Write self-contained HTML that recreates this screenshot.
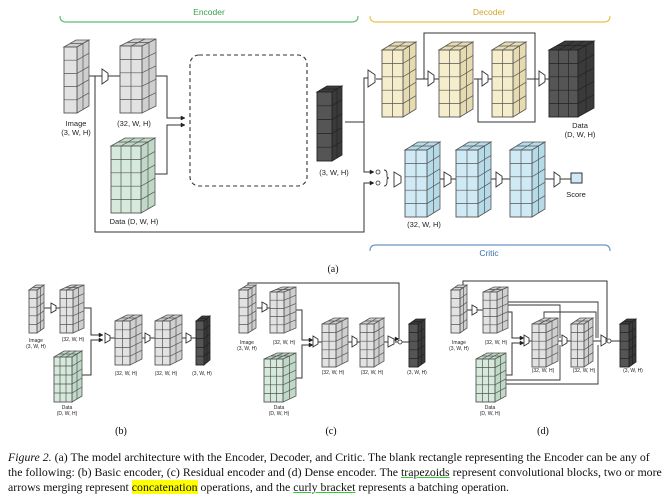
<!DOCTYPE html>
<html><head><meta charset="utf-8">
<style>
body{margin:0;background:#fff;width:670px;height:497px;overflow:hidden;position:relative}
svg{position:absolute;left:0;top:0}
.cap{position:absolute;left:8px;top:450px;width:665px;font-family:"Liberation Serif",serif;font-size:11.85px;line-height:15px;color:#111;white-space:nowrap}
.hl{background:#ffff00}
.ul{text-decoration:underline;text-decoration-color:#33cc33;}
</style></head><body>
<svg id="s" width="670" height="497" xmlns="http://www.w3.org/2000/svg" font-family="Liberation Sans, sans-serif"></svg>
<div class="cap"><i>Figure 2.</i> (a) The model architecture with the Encoder, Decoder, and Critic. The blank rectangle representing the Encoder can be any of<br>the following: (b) Basic encoder, (c) Residual encoder and (d) Dense encoder. The <span class="ul">trapezoids</span> represent convolutional blocks, two or more<br>arrows merging represent <span class="hl">concatenation</span> operations, and the <span class="ul">curly bracket</span> represents a batching operation.</div>
<script>
var S=document.getElementById('s'),h='';
function P(d,st,f,w,extra){h+='<path d="'+d+'" fill="'+(f||'none')+'" stroke="'+(st||'#333')+'" stroke-width="'+(w||1)+'" '+(extra||'')+'/>';}
function T(x,y,t,sz,c,a){h+='<text x="'+x+'" y="'+y+'" font-size="'+(sz||8)+'" fill="'+(c||'#222')+'" text-anchor="'+(a||'middle')+'">'+t+'</text>';}
function cube(x,y,fw,fh,dx,dy,cols,rows,dc,fill,side,grid){
 grid=grid||'#555';
 P('M'+x+' '+y+'L'+(x+dx)+' '+(y-dy)+'L'+(x+fw+dx)+' '+(y-dy)+'L'+(x+fw)+' '+y+'Z',grid,side,0.8);
 P('M'+(x+fw)+' '+y+'L'+(x+fw+dx)+' '+(y-dy)+'L'+(x+fw+dx)+' '+(y+fh-dy)+'L'+(x+fw)+' '+(y+fh)+'Z',grid,side,0.8);
 h+='<rect x="'+x+'" y="'+y+'" width="'+fw+'" height="'+fh+'" fill="'+fill+'" stroke="'+grid+'" stroke-width="0.9"/>';
 var d='';
 for(var i=1;i<cols;i++){var xx=x+fw*i/cols;d+='M'+xx+' '+y+'V'+(y+fh)+'M'+xx+' '+y+'L'+(xx+dx)+' '+(y-dy);}
 for(var j=1;j<rows;j++){var yy=y+fh*j/rows;d+='M'+x+' '+yy+'H'+(x+fw)+'L'+(x+fw+dx)+' '+(yy-dy);}
 for(var k=1;k<dc;k++){var ox=x+dx*k/dc,oy=y-dy*k/dc;d+='M'+ox+' '+oy+'H'+(ox+fw)+'V'+(oy+fh);}
 P(d,grid,'none',0.7);
}
var G=['#e2e2e2','#cfcfcf'],Y=['#f5edcb','#e6dbb0'],N=['#d6eadb','#bfd9c6'],B=['#cfeaf5','#b5dbe9'],D=['#555','#3a3a3a','#222'];
function c(x,y,fw,fh,dx,dy,cols,rows,dc,C){cube(x,y,fw,fh,dx,dy,cols,rows,dc,C[0],C[1],C[2]);}
function trap(x,y,w,hh){P('M'+x+' '+y+'L'+(x+w)+' '+(y+hh*0.28)+'L'+(x+w)+' '+(y+hh*0.72)+'L'+x+' '+(y+hh)+'Z','#333','#fff',0.9);}
function arr(x,y){P('M'+(x-4)+' '+(y-2)+'L'+x+' '+y+'L'+(x-4)+' '+(y+2)+'Z','#222','#222',0.5);}
function circ(x,y,r){h+='<circle cx="'+x+'" cy="'+y+'" r="'+(r||2)+'" fill="#fff" stroke="#333" stroke-width="0.8"/>';}
function brace(x1,x2,y,col,up){var e=up?6:-6;P('M'+x1+' '+(y-e)+'Q'+x1+' '+y+' '+(x1+6)+' '+y+'H'+(x2-6)+'Q'+x2+' '+y+' '+x2+' '+(y-e),col,'none',1.2);}
brace(60,358,22,'#5cbf6a',true);T(209,15,'Encoder',8.5,'#3a9e4a');
brace(370,610,22,'#e8c24a',true);T(489,15,'Decoder',8.5,'#d4a52a');
brace(370,610,245,'#6a95c8',false);T(489,256,'Critic',8.5,'#3d6ea8');
P('M77 76H102M108 76H120');
P('M155 76H167V118H185M155 174H167V125H185');arr(185,118);arr(185,125);
P('M95 76V232H364V183H373');arr(374,183);
P('M345 122H364V78H368M364 122V172H373');arr(374,172);
P('M376 79H382M416 79H428M434 79H439M474 79H482M488 79H492M527 79H539M545 79H549',null,null,1);
P('M424 79V33H535V79M478 79V122H535V79',null,null,1);
P('M440 179H444M451 179H456M491 179H496M502 179H510M545 179H554M560 179H571');
c(64,47,13,66,12,7,1,5,2,G);
trap(102,69,6,15);
c(120,46,22,67,14,7,2,5,2,G);
c(111,146,30,67,14,8,3,5,2,N);
h+='<rect x="190" y="55" width="117" height="131" rx="9" fill="none" stroke="#333" stroke-width="1.1" stroke-dasharray="4,3"/>';
c(317,92,15,69,10,6,1,5,2,D);
trap(368,70,7,17);
c(382,50,21,67,13,8,2,5,2,Y);trap(428,71,6,15);
c(439,50,21,67,13,8,2,5,2,Y);trap(482,71,6,15);
c(492,50,21,67,13,8,2,5,2,Y);trap(539,71,6,15);
c(549,50,29,67,16,9,3,5,2,D);
circ(378,172);circ(378,183);
P('M384 170Q387 170 387 174V176Q387 178 389 178Q387 178 387 180V182Q387 186 384 186',null,null,0.9);
trap(394,172,7,15);
c(405,150,22,67,13,8,2,5,2,B);trap(444,172,7,15);
c(456,150,22,67,13,8,2,5,2,B);trap(496,172,6,15);
c(510,150,22,67,13,8,2,5,2,B);trap(554,172,6,15);
h+='<rect x="571" y="173" width="11" height="10" fill="#cfeaf5" stroke="#333"/>';
T(76,126,'Image',7.5);T(76,135,'(3, W, H)',7.5);T(134,126,'(32, W, H)',7.5);
T(134,224,'Data (D, W, H)',7.5);T(334,175,'(3, W, H)',7.5);
T(580,128,'Data',7.5);T(580,137,'(D, W, H)',7.5);T(424,227,'(32, W, H)',7.5);T(576,197,'Score',7.5);
h+='<text x="333" y="272" font-size="10" fill="#111" text-anchor="middle" font-family="Liberation Serif,serif">(a)</text>';
function sm(x,y,t){T(x,y,t,5);}
P('M44 308H51M56 308H60');
P('M84 308H91V335H100M82 375H91V340H100');arr(103,335);arr(103,340);
P('M110 338H115M142 338H145M150 338H155M182 338H186M191 338H196');
c(29,290,8,43,7,5,1,5,2,G);trap(51,303,5,10);
c(60,290,13,43,11,5,2,5,2,G);
c(54,357,18,45,10,6,3,5,2,N);
trap(105,333,5,10);c(115,321,15,44,12,6,2,5,2,G);
trap(145,333,5,10);c(155,321,15,44,12,6,2,5,2,G);
trap(186,333,5,10);c(196,321,8,44,6,5,1,5,2,D);
sm(36,342,'Image');sm(36,348,'(3, W, H)');sm(73,341,'(32, W, H)');sm(67,409,'Data');sm(67,415,'(D, W, H)');
sm(126,375,'(32, W, H)');sm(166,375,'(32, W, H)');sm(202,375,'(3, W, H)');
h+='<text x="121" y="434" font-size="10" text-anchor="middle" font-family="Liberation Serif,serif">(b)</text>';
P('M257 308H262M266 308H270');
P('M296 310H302V340H310M296 378H302V345H310');arr(313,340);arr(313,345);
P('M318 342H322M348 342H352M356 342H360M384 342H388M395 342H398M402 342H409');
P('M248 292V283H399V339');arr(399,339);
c(239,290,9,43,8,5,1,5,2,G);trap(262,302,5,10);
c(270,292,14,41,12,5,2,5,2,G);
c(264,359,19,43,13,6,3,5,2,N);
trap(313,336,5,11);c(322,324,14,43,12,6,2,5,2,G);
trap(352,336,5,11);c(360,324,14,43,10,6,2,5,2,G);
trap(388,336,6,11);circ(400,342,2);
c(409,324,9,43,7,5,1,5,2,D);
sm(247,344,'Image');sm(247,350,'(3, W, H)');sm(284,344,'(32, W, H)');sm(279,409,'Data');sm(279,415,'(D, W, H)');
sm(333,374,'(32, W, H)');sm(372,374,'(32, W, H)');sm(417,374,'(3, W, H)');
h+='<text x="331" y="434" font-size="10" text-anchor="middle" font-family="Liberation Serif,serif">(c)</text>';
P('M466 310H472M476 310H483');
P('M506 312H512V338H521M506 375H512V343H521');arr(524,338);arr(524,343);
P('M529 341H532M558 341H562M567 341H571M592 341H601M605 341H607M611 341H620');
P('M463 292V281H607V339');arr(607,339);
P('M506 302H598V338M506 305H560V338M506 380H560V345M506 384H598V345M544 318V312H596V338',null,null,0.9);
c(451,290,9,43,7,5,1,5,2,G);trap(472,305,5,10);
c(483,292,14,41,11,5,2,5,2,G);
c(476,359,19,43,11,6,3,5,2,N);
trap(524,335,5,11);c(532,324,14,43,12,6,2,5,2,G);
trap(562,335,5,11);c(571,324,13,43,9,6,2,5,2,G);
trap(601,335,5,11);circ(609,341,2);
c(620,324,9,43,7,5,1,5,2,D);
sm(459,344,'Image');sm(459,350,'(3, W, H)');sm(496,344,'(32, W, H)');sm(490,409,'Data');sm(490,415,'(D, W, H)');
sm(543,372,'(32, W, H)');sm(584,372,'(32, W, H)');sm(633,372,'(3, W, H)');
h+='<text x="543" y="434" font-size="10" text-anchor="middle" font-family="Liberation Serif,serif">(d)</text>';
S.innerHTML=h;
</script>
</body></html>
